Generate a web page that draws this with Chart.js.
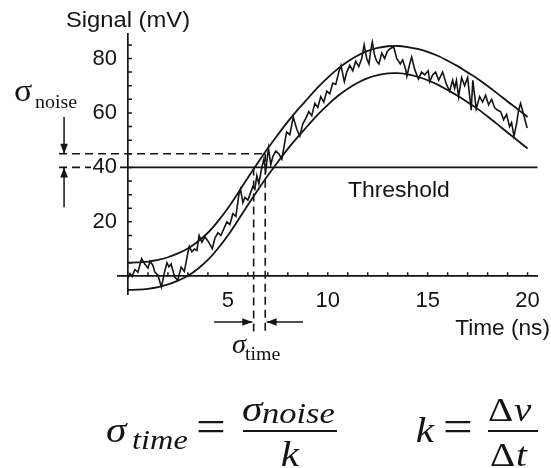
<!DOCTYPE html>
<html><head><meta charset="utf-8">
<script src="https://cdn.jsdelivr.net/npm/chart.js@4.4.1/dist/chart.umd.min.js"></script>
<style>html,body{margin:0;padding:0;background:#fff;overflow:hidden}canvas{display:block}</style>
</head><body>
<canvas id="c" width="551" height="468"></canvas>
<script>
// ---- data ----
const envTime = [0,0.5,1,1.5,2,2.5,3,3.5,4,4.5,5,5.5,6,6.5,7,7.5,8,8.5,9,9.5,10,10.5,11,11.5,12,12.5,13,13.5,14,14.5,15,15.5,16,16.5,17,17.5,18,18.5,19,19.5,20];
const upperEnvelope = [5,5.1,5.4,6,7,8.4,10.2,12.8,16,20.2,25,30.5,36.2,41.7,47,52,56.8,61.2,65.3,69.4,73,76.2,78.9,81.1,82.8,83.9,84.5,84.6,84.2,83.5,82.4,81,79.2,77.2,74.9,72.6,69.9,67.1,64.2,61.4,58.5];
const lowerEnvelope = [-5,-4.9,-4.6,-4,-3,-1.6,0.2,2.8,6,10.2,15,20.5,26.2,31.7,37,42,46.8,51.2,55.3,59.4,63,66.2,68.9,71.1,72.8,73.9,74.5,74.6,74.2,73.3,72,70.4,68.4,66.3,63.9,61.5,58.7,55.8,52.8,49.9,46.9];
const signalTime = [0,0.1,0.2,0.35,0.5,0.68,0.84,1.0,1.1,1.25,1.34,1.5,1.67,1.83,1.95,2.05,2.16,2.33,2.49,2.66,2.82,2.99,3.07,3.2,3.32,3.45,3.56,3.7,3.85,4.0,4.22,4.35,4.5,4.65,4.8,4.95,5.1,5.25,5.4,5.55,5.63,5.75,5.85,6.0,6.1,6.25,6.35,6.45,6.55,6.7,6.8,6.9,7.03,7.15,7.25,7.4,7.55,7.7,7.94,8.1,8.27,8.45,8.6,8.75,8.9,9.05,9.2,9.35,9.5,9.65,9.8,9.95,10.1,10.25,10.4,10.55,10.66,10.83,10.95,11.1,11.25,11.4,11.55,11.7,11.82,11.95,12.06,12.15,12.23,12.35,12.45,12.56,12.7,12.85,12.97,13.1,13.3,13.45,13.63,13.75,13.9,13.96,14.1,14.2,14.35,14.54,14.7,14.85,15.03,15.1,15.25,15.4,15.55,15.65,15.75,15.94,16.1,16.25,16.35,16.44,16.55,16.7,16.85,17.0,17.18,17.26,17.43,17.6,17.75,17.9,18.05,18.2,18.35,18.5,18.65,18.8,18.95,19.1,19.2,19.32,19.45,19.55,19.65,19.8,19.98];
const signalMv = [-0.5,1.0,0.0,2.5,1.5,6.5,4.5,3.0,5.5,4.0,1.6,0.4,-4.0,1.6,5.0,3.5,4.5,-0.2,-1.5,3.4,1.8,8.3,11.0,9.0,10.0,9.5,15.0,12.5,14.5,13.0,10.2,14,16,15,17.5,20,19,23,22,30,32,27,29,28,30,33,32,37,34,40,43,39,47,41,44,46,45,43,53,52,58.5,54,51.5,56,58,60.5,59,63.5,62,66,64,68,67,71,70.5,75,77.5,71.5,75,77.5,75.5,79,77,80,85,80,78,83,86,81,79,78,82,80,82.5,83.5,84.3,80,78,79.5,76,73.5,78,80.5,76,72.5,75,74,75.5,71.5,74,75,72,73.5,75,70.5,68,72,69,72,66,73,70,73,61,72,61.5,66,64,66.5,63,65,62,61,60.5,57.5,59.5,55,56.5,51.5,56,61,63.5,59.5,54.5];
const thresholdMv = 40;
const noiseLevelMv = 45;          // threshold + sigma_noise
const crossTimes = [6.29, 6.87];  // where the dashed verticals sit
const xTickValues = [5,10,15,20];
const yTickValues = [20,40,60,80];
const xMinorTicks = [1,2,3,4,5,6,7,8,9,10,11,12,13,14,15,16,17,18,19,20];
const yMinorTicks = [5,10,15,20,25,30,35,40,45,50,55,60,65,70,75,80,85];

const INK = '#141414';
const SANS = "'Liberation Sans', Arial, sans-serif";
const SERIF = "'Liberation Serif', 'Times New Roman', serif";
const Y_LABEL_GAP = 11;

const toPts = (xs, ys) => xs.map((x, i) => ({x, y: ys[i]}));

function arrowHead(ctx, x1, y1, x2, y2, len, half) {
  const a = Math.atan2(y2 - y1, x2 - x1);
  ctx.beginPath();
  ctx.moveTo(x2, y2);
  ctx.lineTo(x2 - len * Math.cos(a) + half * Math.sin(a), y2 - len * Math.sin(a) - half * Math.cos(a));
  ctx.lineTo(x2 - len * Math.cos(a) - half * Math.sin(a), y2 - len * Math.sin(a) + half * Math.cos(a));
  ctx.closePath();
  ctx.fill();
}
function arrow(ctx, x1, y1, x2, y2) {
  ctx.beginPath(); ctx.moveTo(x1, y1); ctx.lineTo(x2, y2); ctx.stroke();
  arrowHead(ctx, x1, y1, x2, y2, 10, 3.8);
}
function stretchedText(ctx, txt, x, y, font, sx, align) {
  ctx.save();
  ctx.font = font;
  ctx.textAlign = align || 'left';
  ctx.textBaseline = 'alphabetic';
  ctx.translate(x, y);
  ctx.scale(sx, 1);
  ctx.fillText(txt, 0, 0);
  ctx.restore();
}

// shift the y tick labels away from the centred axis line
const yLabelGap = {
  id: 'yLabelGap',
  beforeDraw(chart) {
    const s = chart.scales.y;
    if (s && !s._gapWrapped) {
      const orig = s.drawLabels.bind(s);
      s.drawLabels = function (area) {
        const ctx = chart.ctx;
        ctx.save(); ctx.translate(-Y_LABEL_GAP, 0); orig(area); ctx.restore();
      };
      s._gapWrapped = true;
    }
  }
};

const annotations = {
  id: 'annotations',
  afterDatasetsDraw(chart) {
    const ctx = chart.ctx;
    const xs = chart.scales.x, ys = chart.scales.y;
    const X = v => xs.getPixelForValue(v), Y = v => ys.getPixelForValue(v);
    ctx.save();
    ctx.strokeStyle = INK; ctx.fillStyle = INK; ctx.lineWidth = 1.5;
    // minor ticks
    ctx.beginPath();
    yMinorTicks.forEach(v => { ctx.moveTo(X(0), Y(v)); ctx.lineTo(X(0) + 4, Y(v)); });
    xMinorTicks.forEach(v => { ctx.moveTo(X(v), Y(0)); ctx.lineTo(X(v), Y(0) - 4); });
    ctx.stroke();
    // dashed guide lines
    ctx.setLineDash([8, 5]);
    ctx.lineWidth = 1.6;
    ctx.beginPath();
    ctx.moveTo(X(-3.45), Y(noiseLevelMv)); ctx.lineTo(X(crossTimes[1]), Y(noiseLevelMv));
    ctx.moveTo(X(-3.45), Y(thresholdMv)); ctx.lineTo(X(-1.85), Y(thresholdMv));
    ctx.moveTo(X(crossTimes[0]), Y(thresholdMv)); ctx.lineTo(X(crossTimes[0]), Y(-20.6));
    ctx.moveTo(X(crossTimes[1]), Y(noiseLevelMv)); ctx.lineTo(X(crossTimes[1]), Y(-20.6));
    ctx.stroke();
    ctx.setLineDash([]);
    // sigma_noise arrows
    ctx.lineWidth = 1.5;
    arrow(ctx, X(-3.2), Y(58.5), X(-3.2), Y(noiseLevelMv));
    arrow(ctx, X(-3.2), Y(25.4), X(-3.2), Y(thresholdMv));
    // sigma_time arrows
    arrow(ctx, X(4.31), Y(-16.8), X(crossTimes[0] - 0.07), Y(-16.8));
    arrow(ctx, X(8.76), Y(-16.8), X(crossTimes[1] + 0.07), Y(-16.8));
    // texts
    ctx.fillStyle = INK;
    stretchedText(ctx, 'Signal (mV)', 128, 27, '22px ' + SANS, 1.08, 'center');
    stretchedText(ctx, 'Time (ns)', 550, 335, '22px ' + SANS, 1.03, 'right');
    stretchedText(ctx, 'Threshold', 348, 197, '22px ' + SANS, 1.04, 'left');
    stretchedText(ctx, 'σ', 14, 101, '31px ' + SERIF, 1.1, 'left');
    stretchedText(ctx, 'noise', 35, 108, '19px ' + SERIF, 1.05, 'left');
    stretchedText(ctx, 'σ', 232, 353, 'italic 27px ' + SERIF, 1.05, 'left');
    stretchedText(ctx, 'time', 245, 360, '19px ' + SERIF, 1.05, 'left');
    // formulas
    stretchedText(ctx, 'σ', 106, 442, 'italic 36px ' + SERIF, 1.15, 'left');
    stretchedText(ctx, 'time', 132, 449, 'italic 27px ' + SERIF, 1.2, 'left');
    stretchedText(ctx, '=', 211, 441, '44px ' + SERIF, 1.2, 'center');
    ctx.lineWidth = 1.8;
    ctx.beginPath(); ctx.moveTo(243, 431); ctx.lineTo(337, 431); ctx.stroke();
    stretchedText(ctx, 'σ', 242, 421, 'italic 36px ' + SERIF, 1.15, 'left');
    stretchedText(ctx, 'noise', 262, 423, 'italic 30px ' + SERIF, 1.15, 'left');
    stretchedText(ctx, 'k', 290, 466, 'italic 36px ' + SERIF, 1.15, 'center');
    stretchedText(ctx, 'k', 425, 442, 'italic 36px ' + SERIF, 1.15, 'center');
    stretchedText(ctx, '=', 458, 441, '44px ' + SERIF, 1.2, 'center');
    ctx.beginPath(); ctx.moveTo(488, 431); ctx.lineTo(538, 431); ctx.stroke();
    stretchedText(ctx, 'Δ', 488, 421, '34px ' + SERIF, 1.15, 'left');
    stretchedText(ctx, 'v', 514, 421, 'italic 34px ' + SERIF, 1.15, 'left');
    stretchedText(ctx, 'Δ', 490, 466, '34px ' + SERIF, 1.15, 'left');
    stretchedText(ctx, 't', 516, 466, 'italic 34px ' + SERIF, 1.15, 'left');
    ctx.restore();
  }
};

const lineStyle = {borderColor: INK, borderWidth: 1.8, pointRadius: 0, fill: false};

new Chart(document.getElementById('c'), {
  type: 'line',
  data: {
    datasets: [
      Object.assign({label: 'Upper envelope', data: toPts(envTime, upperEnvelope), tension: 0.35}, lineStyle),
      Object.assign({label: 'Lower envelope', data: toPts(envTime, lowerEnvelope), tension: 0.35}, lineStyle),
      Object.assign({label: 'Signal', data: toPts(signalTime, signalMv), tension: 0}, lineStyle, {borderWidth: 1.6}),
      Object.assign({label: 'Threshold', data: [{x: -0.4, y: thresholdMv}, {x: 20.5, y: thresholdMv}], tension: 0, clip: false}, lineStyle)
    ]
  },
  options: {
    responsive: false, animation: false, devicePixelRatio: 1,
    layout: {padding: {left: 118, right: 9, top: 34, bottom: 174}},
    plugins: {legend: {display: false}, tooltip: {enabled: false}, title: {display: false}},
    scales: {
      x: {
        type: 'linear', min: -0.5, max: 20.5, position: {y: 0},
        grid: {display: false, drawTicks: false},
        border: {display: true, color: INK, width: 1.7},
        afterBuildTicks: s => { s.ticks = xTickValues.map(v => ({value: v})); },
        ticks: {color: INK, font: {family: SANS, size: 22}, padding: 11, maxRotation: 0, autoSkip: false}
      },
      y: {
        type: 'linear', min: -6.5, max: 89, position: {x: 0},
        grid: {display: false, drawTicks: false},
        border: {display: true, color: INK, width: 1.7},
        afterBuildTicks: s => { s.ticks = yTickValues.map(v => ({value: v})); },
        ticks: {color: INK, font: {family: SANS, size: 22}, padding: 0, autoSkip: false}
      }
    }
  },
  plugins: [yLabelGap, annotations]
});
</script>
</body></html>
